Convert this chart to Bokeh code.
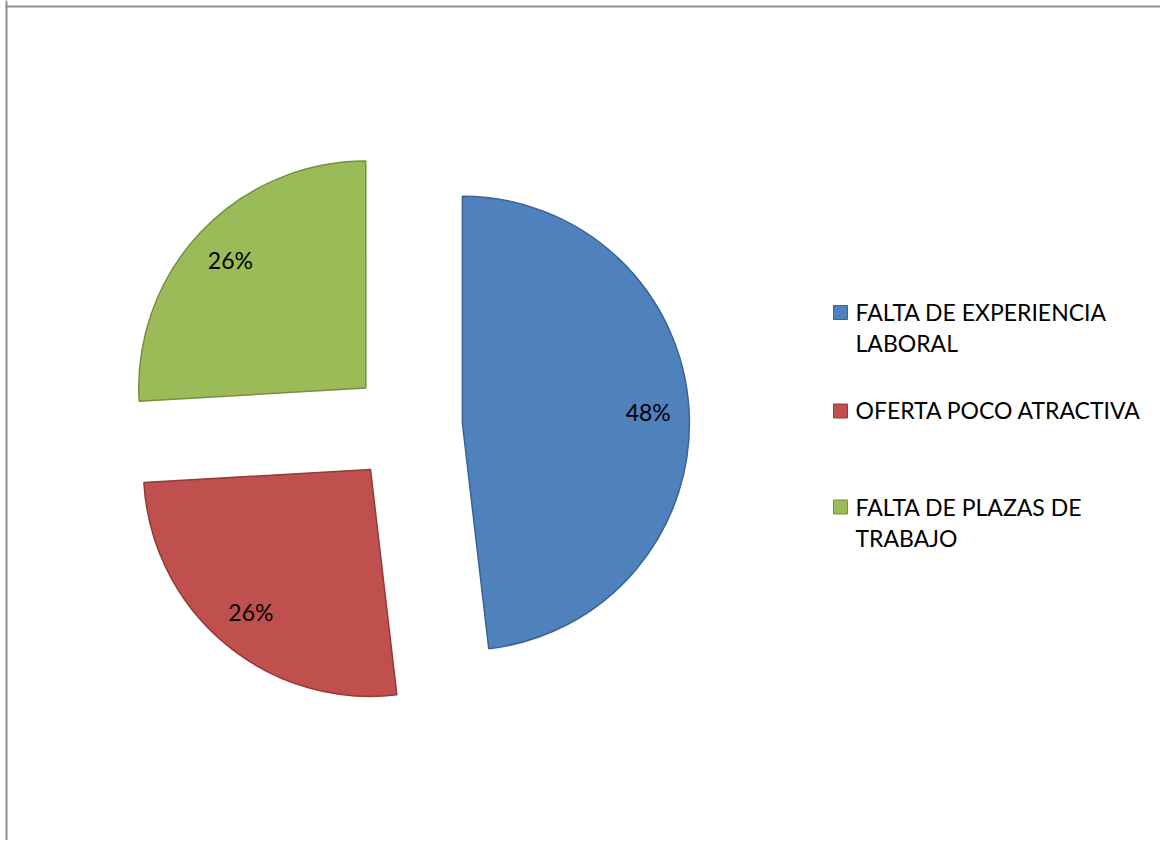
import math
from bokeh.plotting import figure
from bokeh.models import Range1d, ColumnDataSource
from bokeh.core.properties import value
from bokeh.embed import file_html
from bokeh.resources import INLINE

# ---- data ----
categories = ["FALTA DE EXPERIENCIA\nLABORAL", "OFERTA POCO ATRACTIVA", "FALTA DE PLAZAS DE\nTRABAJO"]
values = [13, 7, 7]
fill_colors = ["#4F81BD", "#C0504D", "#9BBB59"]
line_colors = ["#3A6394", "#943A37", "#76903F"]

W, H = 1160, 840
FONT = "Lato"
FS = "23px"

p = figure(width=W, height=H, output_backend="svg", toolbar_location=None,
           x_range=Range1d(0, W), y_range=Range1d(0, H),
           min_border=0, min_border_left=0, min_border_right=0,
           min_border_top=0, min_border_bottom=0)
p.axis.visible = False
p.grid.visible = False
p.outline_line_color = None
p.background_fill_color = "white"
p.border_fill_color = "white"

cx, cy = 406, 414
R = 227
explode = 56
label_frac = 0.82

total = sum(values)
xs, ys, sa, ea, lx, ly, labs = [], [], [], [], [], [], []
cum = 0.0
for v in values:
    a0 = cum / total * 2 * math.pi
    cum += v
    a1 = cum / total * 2 * math.pi
    mid = (a0 + a1) / 2
    dx, dy = math.sin(mid), math.cos(mid)
    ox, oy = cx + explode * dx, cy + explode * dy
    xs.append(ox); ys.append(oy)
    sa.append(math.pi / 2 - a0)
    ea.append(math.pi / 2 - a1)
    lx.append(ox + label_frac * R * dx)
    ly.append(oy + label_frac * R * dy)
    labs.append(f"{round(v / total * 100)}%")

src = ColumnDataSource(dict(x=xs, y=ys, sa=sa, ea=ea, fill=fill_colors, line=line_colors,
                            lx=lx, ly=ly, lab=labs))
p.wedge(x="x", y="y", radius=R, start_angle="sa", end_angle="ea", direction="clock",
        fill_color="fill", line_color="line", line_width=1.5, source=src)
p.text(x="lx", y="ly", text="lab", text_align="center", text_baseline="middle",
       text_font=value(FONT), text_font_size=FS, text_color="black", source=src)

# border (top & left)
p.segment(x0=[6, 5], y0=[H, H - 6], x1=[6, W], y1=[0, H - 6], line_color="#8E8E8E", line_width=2)

# legend
sq_y = [H - 312, H - 410.5, H - 506.5]
text_top = [H - 297, H - 395, H - 492]
p.rect(x=[840] * 3, y=sq_y, width=14, height=14, width_units="screen", height_units="screen",
       fill_color=fill_colors, line_color=line_colors, line_width=1)
p.text(x=[855] * 3, y=text_top, text=categories, text_align="left", text_baseline="top",
       text_font=value(FONT), text_font_size=FS, text_color="black", text_line_height=1.12)

open("out.html", "w").write(file_html(p, INLINE))
